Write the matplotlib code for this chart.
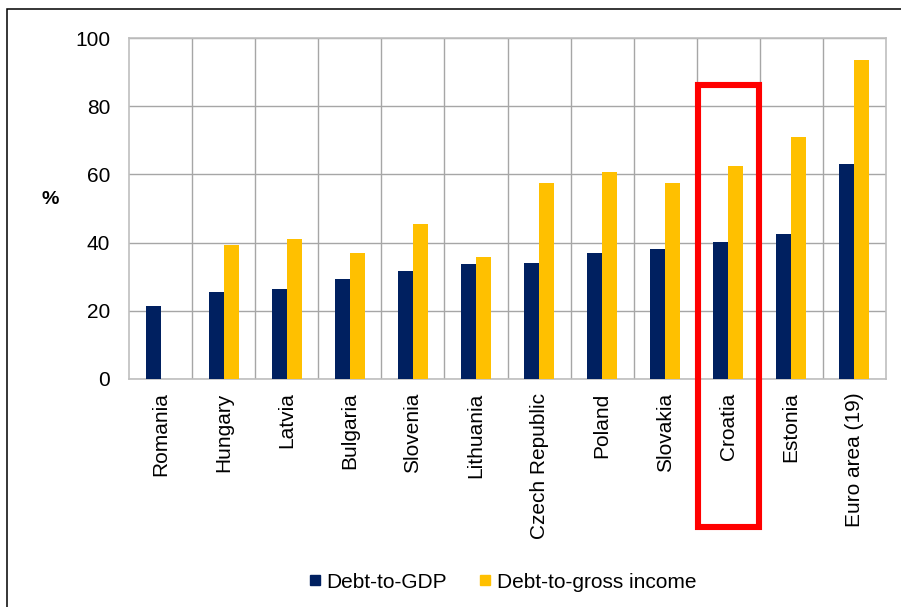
import matplotlib
matplotlib.use("Agg")
import matplotlib.pyplot as plt
from matplotlib.patches import Rectangle
from matplotlib.lines import Line2D
import numpy as np

plt.rcParams['font.family'] = ['Liberation Sans', 'DejaVu Sans']

countries = ["Romania", "Hungary", "Latvia", "Bulgaria", "Slovenia", "Lithuania",
             "Czech Republic", "Poland", "Slovakia", "Croatia", "Estonia", "Euro area (19)"]
debt_gdp = [21.3, 25.6, 26.3, 29.2, 31.7, 33.6, 33.9, 36.8, 38.1, 40.1, 42.4, 63.1]
debt_income = [np.nan, 39.3, 40.9, 36.8, 45.4, 35.7, 57.5, 60.6, 57.5, 62.4, 70.9, 93.5]
yticks = [0, 20, 40, 60, 80, 100]
highlight = "Croatia"

navy = "#002060"
gold = "#FFC000"
grid_c = "#A6A6A6"

fig = plt.figure(figsize=(9.01, 6.07), dpi=100)
ax = fig.add_axes([129.3 / 901, 228.3 / 607, 756.4 / 901, 340.4 / 607])

x = np.arange(len(countries))
w = 0.24
ax.bar(x - w / 2, debt_gdp, width=w, color=navy, zorder=3)
ax.bar(x + w / 2, debt_income, width=w, color=gold, zorder=3)

ax.set_xlim(-0.5, len(countries) - 0.5)
ax.set_ylim(0, 100)
ax.set_yticks(yticks)
ax.set_yticklabels([str(v) for v in yticks], fontsize=15)
ax.set_xticks(x)
ax.set_xticklabels(countries, rotation=90, fontsize=15)
ax.set_xticks(np.arange(0.5, len(countries) - 0.5, 1), minor=True)
ax.tick_params(axis='both', which='both', length=0)
ax.tick_params(axis='y', pad=13.7)
ax.tick_params(axis='x', pad=10)
ax.grid(True, axis='y', which='major', color=grid_c, lw=1, zorder=0)
ax.grid(True, axis='x', which='minor', color=grid_c, lw=1, zorder=0)
ax.grid(False, axis='x', which='major')
for s in ax.spines.values():
    s.set_color("#BFBFBF")
    s.set_linewidth(1.2)

ax.set_ylabel("%", rotation=0, fontsize=14, fontweight='bold', labelpad=0)
ax.yaxis.set_label_coords(-(129.3 - 50) / 756.4, (378.7 - 208) / 340.4)

hi = countries.index(highlight)
rect = Rectangle((hi - 0.48, -43.6), 0.97, 129.9, fill=False, edgecolor="#FF0000",
                 lw=4.4, clip_on=False, zorder=5, joinstyle='miter')
ax.add_patch(rect)

handles = [Line2D([], [], marker='s', ls='none', color=navy, markersize=7.2),
           Line2D([], [], marker='s', ls='none', color=gold, markersize=7.2)]
fig.legend(handles, ["Debt-to-GDP", "Debt-to-gross income"], loc='center',
           bbox_to_anchor=(503 / 901, 1 - 582 / 607), ncol=2, frameon=False,
           fontsize=15, handlelength=0.5, handletextpad=0.3, columnspacing=1.6)

frame = Rectangle((7.3 / 901, -0.1), 1.2, 1.1 - 9 / 607, transform=fig.transFigure,
                  fill=False, edgecolor='black', lw=1.1, clip_on=False)
fig.patches.append(frame)

fig.savefig("out.png", dpi=100)
